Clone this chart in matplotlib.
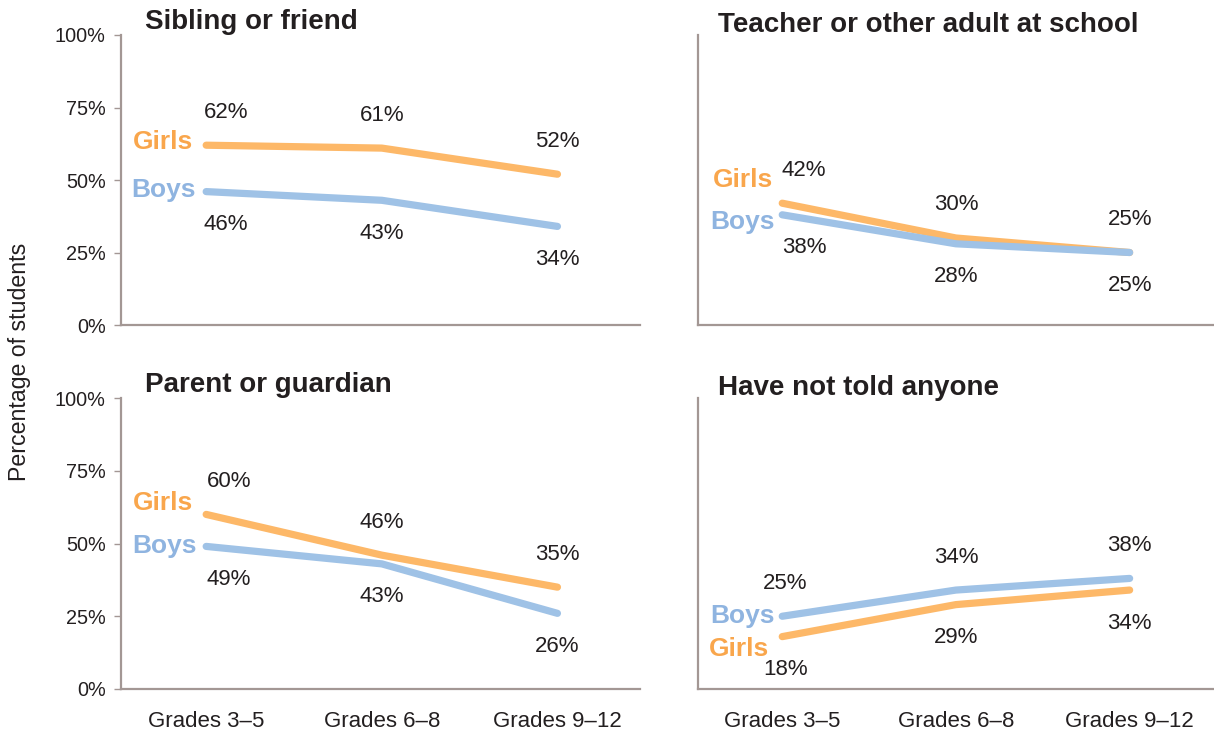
"""Who students told about being bullied, by grade band and gender."""

import matplotlib
matplotlib.use('Agg')
import matplotlib.pyplot as plt
import matplotlib.ticker as mticker

plt.rcParams['font.family'] = ['Liberation Sans', 'DejaVu Sans']

grades = ['Grades 3\u20135', 'Grades 6\u20138', 'Grades 9\u201312']
panel_titles = ['Sibling or friend', 'Teacher or other adult at school',
                'Parent or guardian', 'Have not told anyone']
girls = [
    [62, 61, 52],
    [42, 30, 25],
    [60, 46, 35],
    [18, 29, 34],
]
boys = [
    [46, 43, 34],
    [38, 28, 25],
    [49, 43, 26],
    [25, 34, 38],
]
y_ticks = [0, 25, 50, 75, 100]

GIRL_LINE = '#fdb868'
BOY_LINE = '#9fc2e6'
GIRL_TEXT = '#f9a64c'
BOY_TEXT = '#8fb4e0'
DARK = '#231f20'
SPINE = '#a39794'

W, H = 1214, 735
fig = plt.figure(figsize=(W / 100, H / 100), dpi=100)


def px_axes(x0, x1, ytop, ybot):
    return fig.add_axes([x0 / W, (H - ybot) / H, (x1 - x0) / W, (ybot - ytop) / H])


axes = [
    px_axes(121, 640, 35, 325),
    px_axes(698, 1213, 35, 325),
    px_axes(121, 640, 398, 689),
    px_axes(698, 1213, 398, 689),
]

# label placement per panel (pixels): (girls dx, girls dy, boys dx, boys dy)
name_offsets = [(-13, 3, -10, 2), (-9, 23, -7, -7), (-13, 11, -9, 0), (-13, -12, -7, 0)]
girls_above = [True, True, True, False]
first_dx = [20, 22, 23, 3]

for i, ax in enumerate(axes):
    x = range(len(grades))
    ax.plot(x, girls[i], color=GIRL_LINE, lw=5.2, solid_capstyle='round',
            solid_joinstyle='round', zorder=3)
    ax.plot(x, boys[i], color=BOY_LINE, lw=5.2, solid_capstyle='round',
            solid_joinstyle='round', zorder=4 if i == 1 else 2)

    ax.set_ylim(0, 100)
    ax.set_xlim(-0.485, 2.47 if i % 2 == 0 else 2.48)
    ax.set_yticks(y_ticks)
    ax.yaxis.set_major_formatter(mticker.FuncFormatter(lambda v, _: f'{v:.0f}%'))
    ax.tick_params(axis='y', length=5, width=1, color=SPINE, labelsize=14.3,
                   labelcolor=DARK, pad=6)
    ax.tick_params(axis='x', length=0, labelsize=16, labelcolor=DARK, pad=16)
    ax.set_xticks(list(x))
    ax.set_xticklabels(grades)
    if i % 2 == 1:
        ax.tick_params(axis='y', length=0, labelleft=False)
    if i < 2:
        ax.tick_params(axis='x', labelbottom=False)
    for side in ('top', 'right'):
        ax.spines[side].set_visible(False)
    for side in ('left', 'bottom'):
        ax.spines[side].set_color(SPINE)
        ax.spines[side].set_linewidth(1.6)

    tx = 24 / 519 if i % 2 == 0 else 20 / 516
    ty = 1.045 if i % 2 == 0 else 1.034
    ax.text(tx, ty, panel_titles[i], transform=ax.transAxes, fontsize=20,
            fontweight='bold', color=DARK, va='center', ha='left')

    # series names next to the first point
    gdx, gdy, bdx, bdy = name_offsets[i]
    ax.annotate('Girls', (0, girls[i][0]), xytext=(gdx, gdy), textcoords='offset pixels',
                ha='right', va='center', fontsize=19, fontweight='bold', color=GIRL_TEXT)
    ax.annotate('Boys', (0, boys[i][0]), xytext=(bdx, bdy), textcoords='offset pixels',
                ha='right', va='center', fontsize=19, fontweight='bold', color=BOY_TEXT)

    # value labels
    g_dy = 33 if girls_above[i] else -33
    for j in x:
        dx = first_dx[i] if j == 0 else 0
        ax.annotate(f'{girls[i][j]}%', (j, girls[i][j]), xytext=(dx, g_dy),
                    textcoords='offset pixels', ha='center', va='center',
                    fontsize=16, color=DARK)
        ax.annotate(f'{boys[i][j]}%', (j, boys[i][j]), xytext=(dx, -g_dy),
                    textcoords='offset pixels', ha='center', va='center',
                    fontsize=16, color=DARK)

fig.text(20 / W, 1 - 362 / H, 'Percentage of students', rotation=90, ha='center',
         va='center', fontsize=16.7, color=DARK)

fig.savefig('out.png', dpi=100)
plt.close(fig)
